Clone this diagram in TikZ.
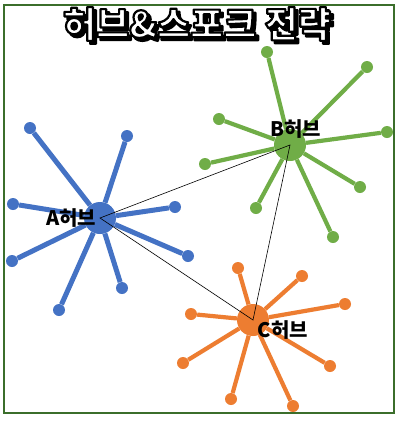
\documentclass[tikz,border=0pt]{standalone}
\usepackage{fontspec}
\newfontfamily\krfont{Noto Sans CJK KR}
\usetikzlibrary{
  backgrounds,  % spokes go under the hub discs
}
\definecolor{hubblue}{HTML}{4472C4}
\definecolor{hubgreen}{HTML}{70AD47}
\definecolor{huborange}{HTML}{ED7D31}
\definecolor{framegreen}{HTML}{3B6E2B}
\def\myhubsize{32pt}
\def\myendsize{12pt}
% text filled in the current colour, stroked in black
\newcommand{\outlined}[1]{\special{pdf:literal direct 2 Tr 2.2 w 1 j 0 G}#1\special{pdf:literal direct 0 Tr}}
\tikzset{
  font=\krfont,
  my hub/.style={
    circle,
    fill=#1,
    minimum size=\myhubsize,
    inner sep=0pt
  },
  my end/.style={
    circle,
    fill=#1,
    minimum size=\myendsize,
    inner sep=0pt
  },
  my spoke/.style={
    draw=#1,
    line width=5pt
  },
  my link/.style={
    draw=black,
    line width=0.6pt
  },
  my label/.style={
    font=\krfont\bfseries\fontsize{20}{20}\selectfont,
    inner sep=0pt
  },
  my title/.style={
    font=\krfont\bfseries\fontsize{36}{36}\selectfont,
    inner sep=0pt
  }
}

\begin{document}
\begin{tikzpicture}[x=1pt,y=-1pt]
\useasboundingbox (0,0) rectangle (400,421);
\begin{pgfonlayer}{background}
  \fill[white] (0,0) rectangle (400,421);
\end{pgfonlayer}
\draw[framegreen,line width=2pt] (4,5) rectangle (394,413);

% hubs
\node[my hub=hubblue]   (A) at (100,218) {};
\node[my hub=hubgreen]  (B) at (290,145) {};
\node[my hub=huborange] (C) at (253,320) {};

% spokes of A
\foreach \i/\x/\y in {1/30/128,2/127/136,3/13/204,4/175/207,
                      5/12/261,6/188/256,7/122/288,8/59/310}{
  \node[my end=hubblue] (a\i) at (\x,\y) {};
  \begin{pgfonlayer}{background}
    \draw[my spoke=hubblue] (A) -- (a\i);
  \end{pgfonlayer}
}
% spokes of B
\foreach \i/\x/\y in {1/267/52,2/367/67,3/219/119,4/387/132,
                      5/205/164,6/360/187,7/256/208,8/333/237}{
  \node[my end=hubgreen] (b\i) at (\x,\y) {};
  \begin{pgfonlayer}{background}
    \draw[my spoke=hubgreen,line width=4.2pt] (B) -- (b\i);
  \end{pgfonlayer}
}
% spokes of C
\foreach \i/\x/\y in {1/238/268,2/302/276,3/345/304,4/191/314,
                      5/183/363,6/330/366,7/231/399,8/293/406}{
  \node[my end=huborange] (c\i) at (\x,\y) {};
  \begin{pgfonlayer}{background}
    \draw[my spoke=huborange,line width=4.2pt] (C) -- (c\i);
  \end{pgfonlayer}
}

% links between the hubs
\draw[my link] (A.center) -- (B.center) -- (C.center) -- cycle;

% labels
\node[my label] (Alabel) at (71,218) {A허브};
\node[my label] (Blabel) at (296,129) {B허브};
\node[my label] (Clabel) at (283,330) {C허브};

% title: black shadow, then white face with black outline
\node[my title,text=black] (shadow) at (200,27) {\outlined{허브\&스포크 전략}};
\node[my title,text=white] (title)  at (197,24) {\outlined{허브\&스포크 전략}};
\end{tikzpicture}
\end{document}
